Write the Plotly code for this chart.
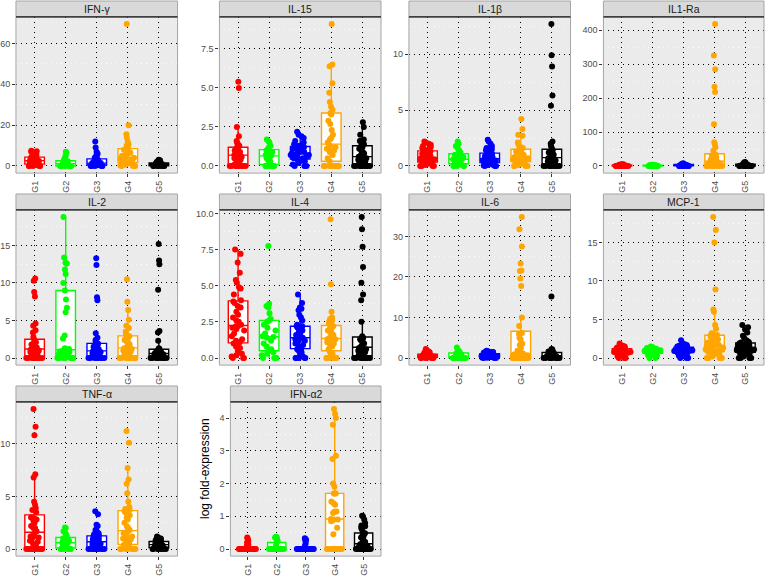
import plotly.graph_objects as go

# ---------------- data ----------------
groups = ["G1", "G2", "G3", "G4", "G5"]
group_colors = ["#FF0000", "#00FF00", "#0000FF", "#FFA500", "#000000"]

panel_titles = ["IFN-γ", "IL-15", "IL-1β", "IL1-Ra", "IL-2", "IL-4", "IL-6", "MCP-1", "TNF-α", "IFN-α2"]

ifng = [
    [0, 0, 0, 0, 0, 0.3, 0.5, 0.8, 1.0, 1.2, 1.5, 1.8, 2.0, 2.2, 2.5, 2.8, 3.0, 3.2, 3.5, 3.8, 4.0, 4.2, 4.5, 5.0, 5.5, 6.0, 6.5, 7.0, 7.5, 7.2, 3.3, 1.1],
    [0, 0, 0, 0, 0, 0, 0.2, 0.4, 0.6, 0.8, 1.0, 1.2, 1.5, 1.8, 2.0, 2.3, 2.6, 3.0, 4.0, 5.0, 6.5, 7.0],
    [0, 0, 0, 0, 0, 0.2, 0.4, 0.5, 0.7, 0.9, 1.0, 1.1, 1.3, 1.5, 1.7, 2.0, 2.2, 2.5, 2.8, 3.0, 3.5, 4.0, 4.5, 5.0, 6.0, 7.0, 9.0, 12.0, 1.2, 0.6],
    [0, 0, 0, 0.3, 0.6, 1.0, 1.5, 2.0, 2.5, 3.0, 3.2, 3.5, 4.0, 4.5, 5.0, 5.5, 6.0, 6.5, 7.0, 7.5, 8.0, 9.0, 10.0, 10.5, 12.0, 14.0, 15.5, 20.0, 69.5, 2.2, 1.2, 3.8],
    [0, 0, 0, 0, 0, 0, 0.1, 0.2, 0.3, 0.4, 0.5, 0.6, 0.7, 0.8, 0.9, 1.0, 1.1, 1.2, 1.3, 1.4, 1.5, 1.6, 1.8, 2.0, 2.2, 2.5, 2.8, 3.0],
]
il15 = [
    [0, 0, 0, 0, 0, 0, 0, 0, 0, 0.1, 0.2, 0.3, 0.4, 0.5, 0.5, 0.6, 0.7, 0.8, 0.9, 0.9, 1.0, 1.0, 1.1, 1.2, 1.3, 1.5, 1.6, 1.9, 1.4, 2.5, 5.0, 5.4, 0.8, 0.7],
    [0, 0, 0, 0, 0, 0, 0.2, 0.3, 0.4, 0.5, 0.6, 0.6, 0.7, 0.7, 0.8, 0.9, 0.9, 1.0, 1.1, 1.2, 1.3, 1.5, 1.6, 1.7],
    [0, 0, 0, 0.1, 0.2, 0.3, 0.3, 0.4, 0.4, 0.5, 0.5, 0.6, 0.6, 0.7, 0.7, 0.7, 0.8, 0.8, 0.8, 0.9, 0.9, 1.0, 1.0, 1.1, 1.1, 1.2, 1.2, 1.3, 1.3, 1.4, 1.5, 1.6, 1.8, 1.9, 2.0, 2.2],
    [0, 0, 0, 0, 0, 0, 0, 0, 0.3, 0.5, 0.7, 0.9, 1.0, 1.1, 1.2, 1.2, 1.3, 1.5, 1.7, 1.8, 2.0, 2.3, 2.7, 2.9, 3.3, 3.4, 3.6, 3.8, 4.1, 4.7, 5.3, 6.4, 6.5, 9.1],
    [0, 0, 0, 0, 0, 0, 0, 0, 0, 0.1, 0.2, 0.3, 0.4, 0.5, 0.5, 0.6, 0.7, 0.8, 0.8, 0.9, 1.0, 1.1, 1.2, 1.3, 1.4, 1.5, 1.6, 1.6, 1.7, 2.0, 2.5, 2.8, 0.3, 0.6],
]
il1b = [
    [0, 0, 0, 0, 0.1, 0.15, 0.2, 0.3, 0.3, 0.4, 0.4, 0.5, 0.5, 0.6, 0.6, 0.6, 0.7, 0.7, 0.8, 0.8, 0.9, 1.0, 1.0, 1.1, 1.2, 1.3, 1.3, 1.4, 1.5, 1.6, 1.7, 1.8, 1.9, 2.0, 2.1, 2.2],
    [0, 0, 0, 0, 0, 0.1, 0.2, 0.3, 0.4, 0.4, 0.5, 0.5, 0.6, 0.6, 0.7, 0.8, 0.9, 1.0, 1.0, 1.1, 1.2, 1.4, 1.6, 1.8, 2.0, 2.2],
    [0, 0, 0, 0.05, 0.1, 0.1, 0.2, 0.2, 0.3, 0.3, 0.4, 0.4, 0.4, 0.5, 0.5, 0.5, 0.6, 0.6, 0.7, 0.7, 0.8, 0.8, 0.9, 0.9, 1.0, 1.0, 1.1, 1.2, 1.3, 1.4, 1.5, 1.6, 1.8, 2.0, 2.2, 2.35],
    [0, 0, 0, 0, 0.1, 0.2, 0.2, 0.3, 0.4, 0.4, 0.5, 0.5, 0.6, 0.6, 0.7, 0.7, 0.8, 0.8, 0.9, 1.0, 1.0, 1.1, 1.2, 1.3, 1.4, 1.5, 1.6, 1.7, 1.9, 2.1, 2.7, 2.8, 3.3, 4.2],
    [0, 0, 0, 0, 0, 0, 0, 0, 0, 0.1, 0.2, 0.3, 0.3, 0.4, 0.5, 0.5, 0.6, 0.7, 0.8, 0.9, 1.0, 1.0, 1.1, 1.2, 1.3, 1.3, 1.4, 1.6, 1.8, 2.0, 2.2, 5.4, 6.3, 8.9, 9.9, 12.7],
]
il1ra = [
    [0, 0, 0, 0, 0, 0, 0, 0.3, 0.6, 0.9, 1.1, 1.4, 1.7, 2.0, 2.2, 2.5, 2.8, 3.0, 3.3, 3.6, 3.9, 4.2, 4.5, 4.8, 5.0, 1.5, 2.6, 0.5],
    [0, 0, 0, 0, 0, 0, 0.4, 0.8, 1.2, 1.6, 2.0, 2.4, 2.8, 3.2, 3.6, 4.0, 1.0, 2.2, 3.0, 0.6],
    [0, 0, 0, 0, 0, 0, 0.5, 1.0, 1.5, 2.0, 2.5, 3.0, 3.5, 4.0, 4.5, 5.0, 5.5, 6.0, 7.0, 8.0, 2.2, 1.2, 3.3, 0.8, 4.4, 2.8],
    [0, 0, 0, 0, 0, 0, 0, 0, 1, 2, 3, 4, 5, 6, 7, 8, 9, 10, 11, 12, 14, 15, 17, 19, 21, 24, 25, 27, 30, 31, 33, 45, 55, 63, 70, 123, 218, 233, 285, 325, 418],
    [0, 0, 0, 0, 0, 0, 0, 0.5, 1, 1.5, 2, 2.5, 3, 3.5, 4, 4.5, 5, 6, 7, 8, 9, 10, 12, 2.8, 3.3, 1.2],
]
il2 = [
    [0, 0, 0, 0, 0, 0, 0, 0, 0, 0.2, 0.4, 0.5, 0.6, 0.8, 0.9, 1.0, 1.0, 1.1, 1.2, 1.3, 1.4, 1.5, 1.6, 1.8, 1.9, 2.0, 2.1, 2.4, 2.8, 3.4, 3.7, 4.3, 4.6, 8.2, 8.8, 10.3, 10.6],
    [0, 0, 0, 0, 0, 0, 0, 0.2, 0.4, 0.5, 0.6, 0.7, 0.8, 0.9, 1.0, 1.2, 1.3, 2.6, 3.0, 6.1, 6.7, 7.8, 9.0, 10.0, 11.2, 11.8, 12.6, 12.7, 13.4, 18.8],
    [0, 0, 0, 0, 0, 0, 0, 0, 0.1, 0.2, 0.3, 0.4, 0.5, 0.6, 0.7, 0.8, 0.8, 0.9, 1.0, 1.1, 1.2, 1.3, 1.4, 1.5, 1.6, 1.8, 1.9, 2.0, 2.2, 2.4, 2.7, 3.3, 7.7, 8.1, 12.4, 13.3],
    [0, 0, 0, 0, 0, 0, 0, 0, 0.2, 0.4, 0.5, 0.7, 0.8, 1.0, 1.1, 1.2, 1.3, 1.3, 1.4, 1.6, 1.8, 2.0, 2.2, 2.4, 2.6, 2.8, 2.9, 3.0, 3.1, 3.5, 4.0, 4.3, 5.1, 6.4, 7.5, 10.5],
    [0, 0, 0, 0, 0, 0, 0, 0, 0, 0.1, 0.2, 0.3, 0.3, 0.4, 0.5, 0.5, 0.6, 0.6, 0.7, 0.7, 0.8, 0.8, 0.9, 0.9, 1.0, 1.1, 1.2, 1.3, 2.3, 3.4, 3.6, 9.1, 12.5, 13.0, 15.2],
]
il4 = [
    [0, 0, 0, 0.1, 0.2, 0.3, 0.5, 0.7, 0.8, 1.0, 1.2, 1.3, 1.5, 1.7, 1.9, 2.0, 2.1, 2.2, 2.2, 2.3, 2.5, 2.6, 2.8, 3.0, 3.2, 3.5, 3.6, 3.8, 3.9, 4.0, 4.4, 4.8, 4.9, 5.2, 5.4, 5.9, 6.6, 7.2, 7.5, 1.1],
    [0, 0, 0, 0.2, 0.3, 0.4, 0.5, 0.6, 0.8, 1.0, 1.2, 1.4, 1.45, 1.5, 1.7, 1.9, 2.1, 2.3, 2.5, 2.6, 2.7, 3.1, 3.5, 3.6, 3.75, 7.75],
    [0, 0, 0, 0, 0, 0.1, 0.3, 0.5, 0.6, 0.7, 0.8, 0.9, 1.0, 1.1, 1.2, 1.2, 1.3, 1.3, 1.4, 1.4, 1.4, 1.5, 1.6, 1.7, 1.8, 1.9, 2.0, 2.1, 2.2, 2.2, 2.3, 2.6, 2.8, 3.0, 3.3, 3.4, 3.5, 3.8, 4.4, 0.4],
    [0, 0, 0, 0, 0, 0, 0.2, 0.3, 0.4, 0.6, 0.8, 0.9, 1.0, 1.1, 1.2, 1.3, 1.3, 1.3, 1.4, 1.5, 1.6, 1.7, 1.8, 1.9, 2.0, 2.1, 2.2, 2.3, 2.4, 2.5, 2.6, 2.7, 2.8, 3.2, 5.1, 9.6],
    [0, 0, 0, 0, 0, 0, 0, 0, 0.1, 0.2, 0.3, 0.3, 0.4, 0.5, 0.5, 0.6, 0.6, 0.7, 0.8, 0.9, 1.0, 1.1, 1.2, 1.3, 1.3, 1.4, 1.4, 1.5, 2.5, 4.0, 4.4, 5.2, 6.3, 7.7, 8.9, 9.75],
]
il6 = [
    [0, 0, 0, 0, 0, 0.1, 0.1, 0.2, 0.2, 0.2, 0.3, 0.3, 0.3, 0.4, 0.4, 0.4, 0.5, 0.5, 0.5, 0.6, 0.6, 0.7, 0.7, 0.8, 0.8, 0.9, 1.0, 1.1, 1.2, 1.3, 1.4, 1.5, 1.7, 2.0, 2.2, 0.3],
    [0, 0, 0, 0, 0, 0, 0.1, 0.1, 0.2, 0.2, 0.3, 0.3, 0.4, 0.5, 0.6, 0.8, 1.0, 1.2, 1.3, 1.5, 1.5, 1.6, 2.0, 2.6],
    [0, 0, 0, 0.1, 0.1, 0.2, 0.2, 0.3, 0.3, 0.3, 0.4, 0.4, 0.4, 0.5, 0.5, 0.5, 0.6, 0.6, 0.7, 0.7, 0.8, 0.8, 0.9, 0.9, 1.0, 1.0, 1.1, 1.1, 1.2, 1.3, 1.3, 1.4, 1.5, 1.5, 1.7, 1.8],
    [0, 0, 0, 0, 0, 0, 0, 0, 0, 0, 0, 0.3, 0.4, 0.5, 0.6, 0.7, 0.8, 0.9, 1.0, 1.0, 1.1, 1.2, 1.4, 1.8, 2.5, 3.2, 3.5, 4.6, 5.0, 6.0, 6.2, 7.9, 10.0, 17.8, 19.6, 21.5, 21.6, 23.3, 27.5, 31.8, 34.8],
    [0, 0, 0, 0, 0, 0, 0, 0.1, 0.1, 0.2, 0.2, 0.3, 0.3, 0.4, 0.4, 0.5, 0.5, 0.6, 0.6, 0.7, 0.8, 0.9, 1.0, 1.1, 1.2, 1.3, 1.4, 1.5, 1.6, 1.7, 1.8, 2.0, 2.1, 2.2, 1.0, 15.2],
]
mcp1 = [
    [0, 0, 0, 0.2, 0.4, 0.5, 0.5, 0.6, 0.6, 0.6, 0.7, 0.7, 0.7, 0.8, 0.8, 0.8, 0.8, 0.9, 0.9, 0.9, 1.0, 1.0, 1.0, 1.1, 1.1, 1.2, 1.2, 1.2, 1.3, 1.3, 1.4, 1.5, 1.6, 1.7, 1.9, 0.8],
    [0, 0, 0.3, 0.5, 0.6, 0.6, 0.7, 0.7, 0.8, 0.8, 0.8, 0.9, 0.9, 0.9, 1.0, 1.0, 1.0, 1.1, 1.1, 1.2, 1.2, 1.3, 1.3, 1.4, 1.5, 0.4],
    [0, 0, 0, 0.3, 0.5, 0.6, 0.6, 0.7, 0.7, 0.8, 0.8, 0.9, 0.9, 0.9, 1.0, 1.0, 1.0, 1.0, 1.1, 1.1, 1.1, 1.2, 1.2, 1.3, 1.3, 1.4, 1.4, 1.5, 1.5, 1.6, 1.6, 1.7, 1.8, 1.9, 2.3, 0.5],
    [0, 0, 0, 0, 0.2, 0.4, 0.5, 0.6, 0.7, 0.8, 0.9, 1.0, 1.0, 1.1, 1.2, 1.3, 1.4, 1.5, 1.6, 1.6, 1.7, 1.8, 1.9, 2.0, 2.1, 2.2, 2.4, 2.5, 2.7, 2.9, 3.0, 3.2, 3.8, 4.3, 6.0, 6.3, 8.9, 15.0, 16.6, 18.3],
    [0, 0, 0, 0, 0.2, 0.4, 0.5, 0.6, 0.6, 0.7, 0.8, 0.8, 0.9, 1.0, 1.0, 1.1, 1.1, 1.2, 1.2, 1.2, 1.3, 1.3, 1.4, 1.5, 1.5, 1.6, 1.7, 1.8, 1.8, 1.9, 2.0, 2.0, 2.1, 2.3, 2.6, 2.9, 3.3, 3.7, 4.0, 4.3],
]
tnfa = [
    [0, 0, 0, 0, 0, 0, 0, 0, 0, 0, 0.3, 0.5, 0.7, 0.8, 1.0, 1.1, 1.2, 1.2, 1.3, 1.5, 1.7, 2.0, 2.0, 2.2, 2.5, 2.7, 2.8, 2.9, 3.0, 3.0, 3.5, 3.7, 3.9, 4.2, 4.5, 6.8, 7.1, 10.8, 11.6, 13.3],
    [0, 0, 0, 0, 0, 0, 0.1, 0.2, 0.3, 0.4, 0.5, 0.5, 0.6, 0.6, 0.7, 0.8, 0.9, 1.0, 1.0, 1.1, 1.2, 1.4, 1.6, 1.7, 2.0, 2.05],
    [0, 0, 0, 0, 0, 0, 0, 0, 0, 0, 0.1, 0.2, 0.3, 0.4, 0.5, 0.5, 0.6, 0.6, 0.7, 0.7, 0.8, 0.8, 0.9, 0.9, 1.0, 1.0, 1.1, 1.1, 1.2, 1.3, 1.4, 1.5, 1.6, 1.8, 1.8, 2.2, 2.3, 3.3, 3.6, 0.4],
    [0, 0, 0, 0, 0, 0, 0, 0.1, 0.3, 0.4, 0.5, 0.7, 0.9, 1.0, 1.1, 1.2, 1.3, 1.5, 1.6, 1.7, 1.8, 2.0, 2.2, 2.5, 2.8, 3.0, 3.2, 3.3, 3.5, 3.6, 3.7, 3.8, 4.0, 4.5, 5.3, 6.2, 6.6, 7.7, 10.1, 11.2],
    [0, 0, 0, 0, 0, 0, 0, 0.05, 0.1, 0.15, 0.2, 0.2, 0.3, 0.3, 0.35, 0.4, 0.4, 0.45, 0.5, 0.5, 0.55, 0.6, 0.6, 0.65, 0.7, 0.7, 0.75, 0.8, 0.8, 0.9, 0.9, 1.0, 1.0, 1.1, 1.2, 0.25],
]
ifna2 = [
    [0, 0, 0, 0, 0, 0, 0, 0, 0, 0, 0, 0, 0, 0, 0, 0, 0, 0, 0, 0, 0, 0, 0, 0, 0, 0, 0, 0, 0.05, 0.1, 0.15, 0.2, 0.25, 0.28, 0.33, 0.35],
    [0, 0, 0, 0, 0, 0, 0, 0, 0, 0, 0, 0, 0, 0, 0, 0, 0, 0, 0.1, 0.2, 0.25, 0.3, 0.33, 0.35, 0.36, 0.38],
    [0, 0, 0, 0, 0, 0, 0, 0, 0, 0, 0, 0, 0, 0, 0, 0, 0, 0, 0, 0, 0, 0, 0, 0.1, 0.17, 0.25, 0.28, 0.3, 0.31, 0.33],
    [0, 0, 0, 0, 0, 0, 0, 0, 0, 0, 0, 0.45, 0.65, 0.85, 0.88, 0.9, 0.9, 0.92, 1.1, 1.15, 1.15, 1.35, 1.4, 1.45, 1.7, 1.7, 1.7, 1.9, 2.0, 2.75, 2.85, 3.8, 4.0, 4.13, 4.28],
    [0, 0, 0, 0, 0, 0, 0, 0, 0, 0, 0, 0.02, 0.05, 0.08, 0.1, 0.1, 0.12, 0.15, 0.18, 0.2, 0.22, 0.25, 0.3, 0.35, 0.4, 0.45, 0.48, 0.5, 0.6, 0.65, 0.7, 0.72, 0.8, 0.9, 1.0, 1.02],
]
panel_data = [ifng, il15, il1b, il1ra, il2, il4, il6, mcp1, tnfa, ifna2]

# y tick values/labels and minor (white) grid positions per panel
y_ticks = [
    [0, 20, 40, 60], [0, 2.5, 5, 7.5], [0, 5, 10], [0, 100, 200, 300, 400], [0, 5, 10, 15],
    [0, 2.5, 5, 7.5, 10], [0, 10, 20, 30], [0, 5, 10, 15], [0, 5, 10], [0, 1, 2, 3, 4],
]
y_ticktext = [
    ["0", "20", "40", "60"], ["0.0", "2.5", "5.0", "7.5"], ["0", "5", "10"], ["0", "100", "200", "300", "400"],
    ["0", "5", "10", "15"], ["0.0", "2.5", "5.0", "7.5", "10.0"], ["0", "10", "20", "30"], ["0", "5", "10", "15"],
    ["0", "5", "10"], ["0", "1", "2", "3", "4"],
]
y_minor = [
    [10, 30, 50, 70], [1.25, 3.75, 6.25, 8.75], [2.5, 7.5, 12.5], [50, 150, 250, 350], [2.5, 7.5, 12.5, 17.5],
    [1.25, 3.75, 6.25, 8.75], [5, 15, 25, 35], [2.5, 7.5, 12.5, 17.5], [2.5, 7.5, 12.5], [0.5, 1.5, 2.5, 3.5],
]

# ---------------- layout geometry (pixels) ----------------
W, H = 766, 576
col_x = [(14, 176), (218, 380), (408, 570), (603, 764)]
row_y = [(16, 173), (210, 366), (403, 558)]
strip_h = 16
FONT = "Liberation Sans, Arial, Helvetica, sans-serif"

fig = go.Figure()
layout = {}
shapes = []
annotations = []

for k, title in enumerate(panel_titles):
    r, c = divmod(k, 4)
    x0, x1 = col_x[c]
    if k == 9:
        x0 = 229
    y0, y1 = row_y[r]
    sfx = "" if k == 0 else str(k + 1)
    xa, ya = "x" + sfx, "y" + sfx

    vals_all = [v for g in panel_data[k] for v in g]
    lo, hi = min(vals_all), max(vals_all)
    pad = 0.05 * (hi - lo)

    for gi, g in enumerate(groups):
        col = group_colors[gi]
        fig.add_trace(go.Box(
            y=panel_data[k][gi], name=g, xaxis=xa, yaxis=ya,
            boxpoints="all", jitter=1.0, pointpos=0,
            fillcolor="white", line=dict(color=col, width=1.4),
            marker=dict(color=col, size=6, line=dict(width=0)),
            whiskerwidth=0, showlegend=False, hoverinfo="y",
        ))

    layout["xaxis" + sfx] = dict(
        domain=[x0 / W, x1 / W], anchor=ya, type="category",
        categoryorder="array", categoryarray=groups, range=[-0.6, 4.6],
        showgrid=True, gridcolor="black", griddash="1px,4px", gridwidth=1,
        ticks="outside", ticklen=3, tickcolor="#333333", tickwidth=1,
        tickangle=-90, tickfont=dict(size=9, color="#4D4D4D", family=FONT),
        showline=False, zeroline=False, fixedrange=True,
    )
    layout["yaxis" + sfx] = dict(
        domain=[1 - y1 / H, 1 - y0 / H], anchor=xa,
        range=[lo - pad, hi + pad],
        tickmode="array", tickvals=y_ticks[k], ticktext=y_ticktext[k],
        minor=dict(tickmode="array", tickvals=y_minor[k], showgrid=True,
                   gridcolor="white", gridwidth=0.8, ticks=""),
        showgrid=True, gridcolor="black", griddash="1px,4px", gridwidth=1,
        ticks="outside", ticklen=3, tickcolor="#333333", tickwidth=1,
        tickfont=dict(size=9, color="#4D4D4D", family=FONT),
        showline=False, zeroline=False, fixedrange=True,
    )

    # strip
    shapes.append(dict(type="rect", xref="paper", yref="paper",
                       x0=x0 / W, x1=x1 / W, y0=1 - y0 / H, y1=1 - (y0 - strip_h) / H,
                       fillcolor="#D9D9D9", line=dict(color="#A6A6A6", width=1), layer="below"))
    # panel border
    shapes.append(dict(type="rect", xref="paper", yref="paper",
                       x0=x0 / W, x1=x1 / W, y0=1 - y1 / H, y1=1 - y0 / H,
                       fillcolor="rgba(0,0,0,0)", line=dict(color="#A6A6A6", width=1), layer="above"))
    shapes.append(dict(type="line", xref="paper", yref="paper",
                       x0=x0 / W, x1=x1 / W, y0=1 - y0 / H, y1=1 - y0 / H,
                       line=dict(color="#1A1A1A", width=1.2), layer="above"))
    annotations.append(dict(text=title, xref="paper", yref="paper",
                            x=(x0 + x1) / 2 / W, y=1 - (y0 - strip_h / 2) / H,
                            xanchor="center", yanchor="middle", showarrow=False,
                            font=dict(size=10.5, color="#1A1A1A", family=FONT)))

annotations.append(dict(text="log fold-expression", xref="paper", yref="paper",
                        x=203 / W, y=1 - 470 / H, textangle=-90,
                        xanchor="center", yanchor="middle", showarrow=False,
                        font=dict(size=12, color="black", family=FONT)))

fig.update_layout(
    width=W, height=H, margin=dict(l=0, r=0, t=0, b=0),
    paper_bgcolor="white", plot_bgcolor="#EBEBEB",
    boxmode="overlay", boxgap=0.1, showlegend=False,
    shapes=shapes, annotations=annotations,
    font=dict(family=FONT),
    **layout,
)

fig.write_html(
    "out.html",
    config={"displayModeBar": False, "staticPlot": True},
    post_script="document.body.style.margin='0';document.body.style.padding='0';document.body.style.overflow='hidden';",
)
